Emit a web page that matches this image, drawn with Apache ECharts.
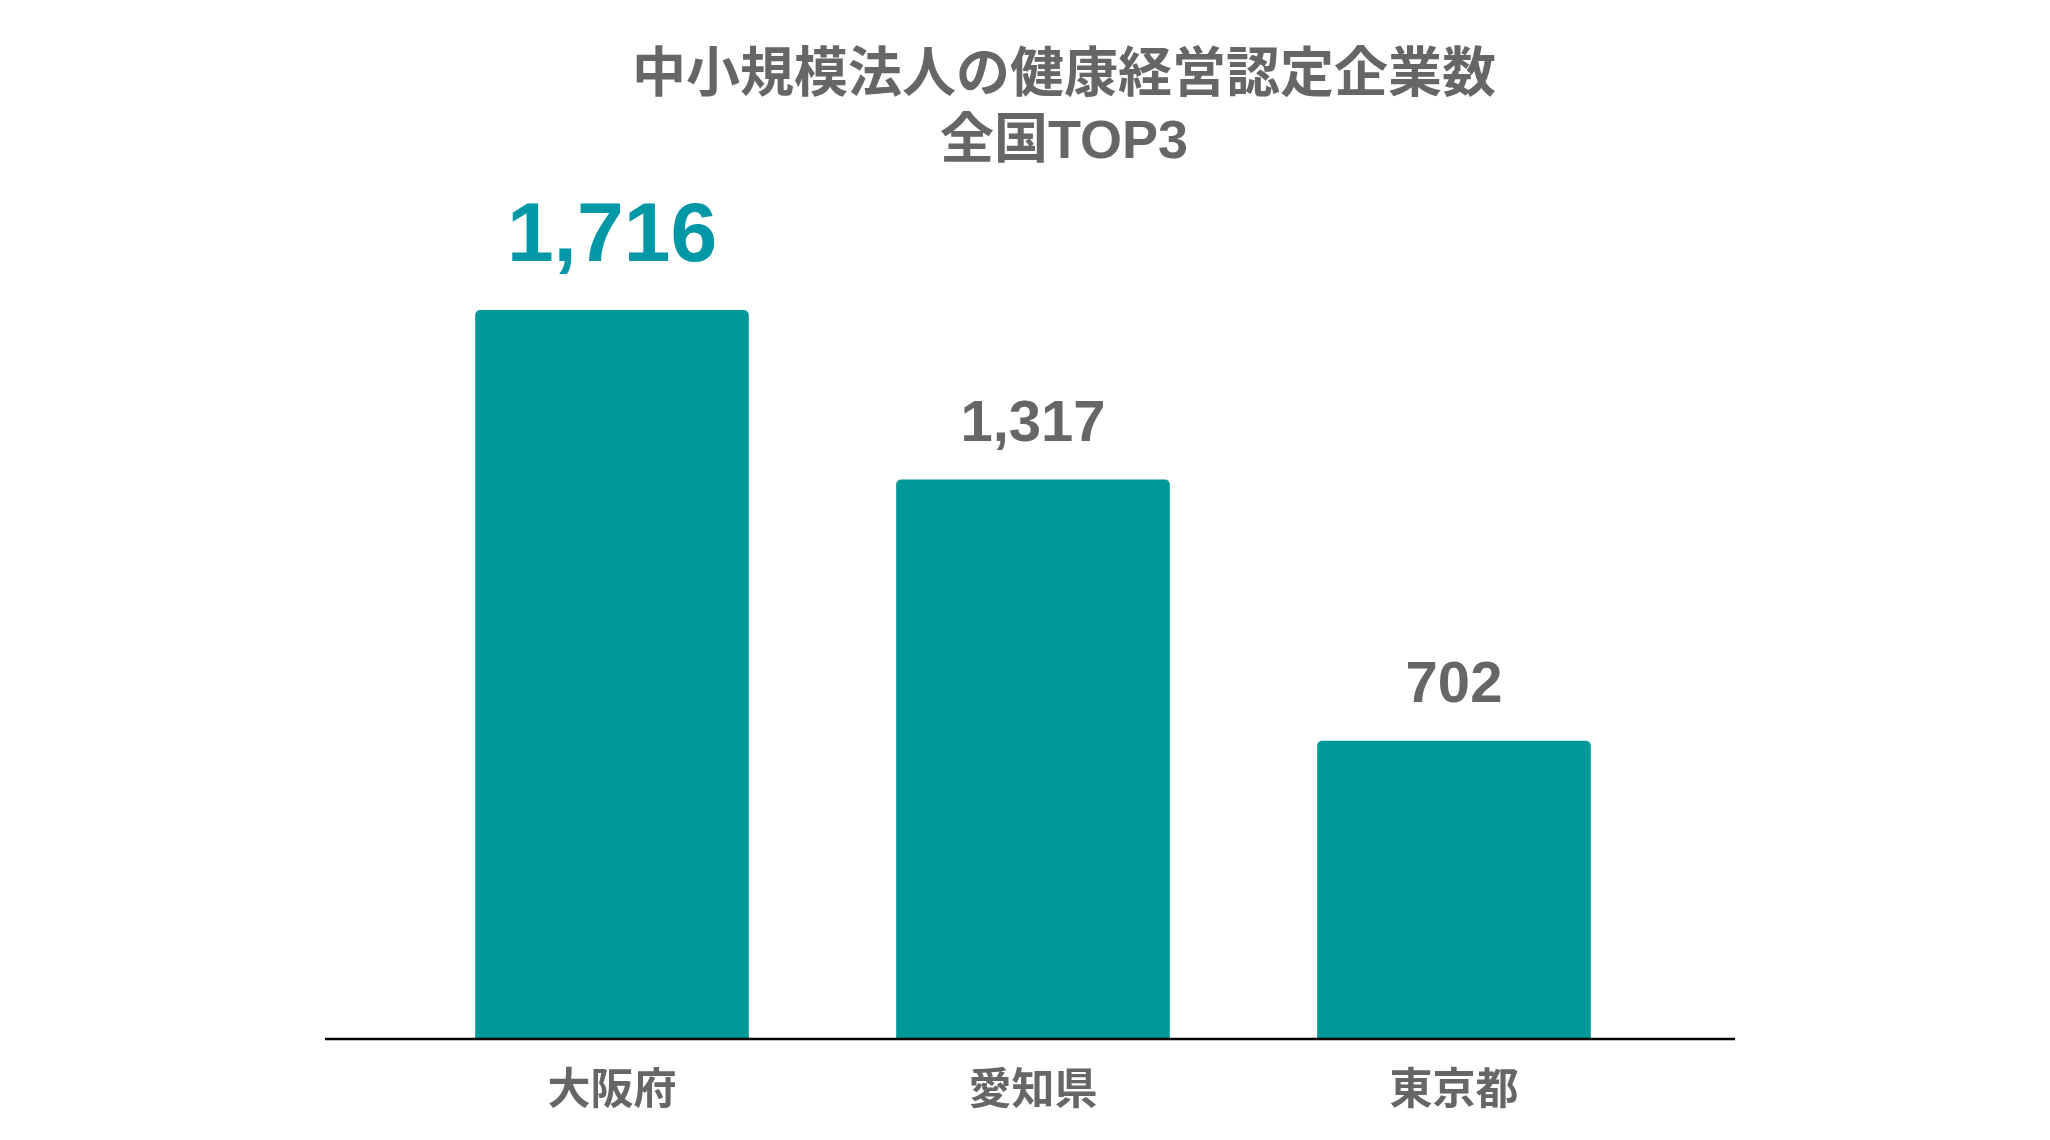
<!DOCTYPE html>
<html>
<head>
<meta charset="utf-8">
<script src="https://cdn.jsdelivr.net/npm/echarts@6/dist/echarts.min.js"></script>
<style>html,body{margin:0;padding:0;background:#fff;}#c{width:2050px;height:1140px;}</style>
</head>
<body>
<div id="c"></div>
<script>
const categories = ['大阪府', '愛知県', '東京都'];
const values = [1716, 1317, 702];
const titleText = '中小規模法人の健康経営認定企業数\n全国TOP3';

const FONT = '"Liberation Sans", "Noto Sans CJK JP", sans-serif';
const chart = echarts.init(document.getElementById('c'), null, {renderer: 'canvas'});
const data = values.map((v, i) => ({
  value: v,
  label: i === 0
    ? {fontSize: 84, color: '#0097A7', distance: 30}
    : {fontSize: 58, color: '#666666', distance: 26}
}));
chart.setOption({
  animation: false,
  backgroundColor: '#ffffff',
  title: {
    text: titleText,
    left: 1059,
    top: 39,
    textAlign: 'center',
    textStyle: {fontSize: 54, fontWeight: 'bold', color: '#666666', lineHeight: 66, fontFamily: FONT}
  },
  grid: {left: 401.5, right: 385.5, top: 189.4, bottom: 101, containLabel: false},
  xAxis: {
    type: 'category',
    data: categories,
    axisLine: {show: false},
    axisTick: {show: false},
    axisLabel: {fontSize: 43, fontWeight: 'bold', color: '#666666', margin: 32, fontFamily: FONT}
  },
  yAxis: {
    type: 'value', min: 0, max: 2000,
    show: false, splitLine: {show: false}
  },
  series: [{
    type: 'bar',
    data: data,
    barWidth: '65%',
    itemStyle: {color: '#009999', borderRadius: [5, 5, 0, 0]},
    label: {
      show: true, position: 'top', fontWeight: 'bold', fontFamily: FONT,
      formatter: p => p.value.toLocaleString('en-US')
    }
  }],
  graphic: [{
    type: 'line',
    shape: {x1: 325, y1: 1039, x2: 1735, y2: 1039},
    style: {stroke: '#000000', lineWidth: 2.5},
    z: 10
  }]
});
</script>
</body>
</html>
